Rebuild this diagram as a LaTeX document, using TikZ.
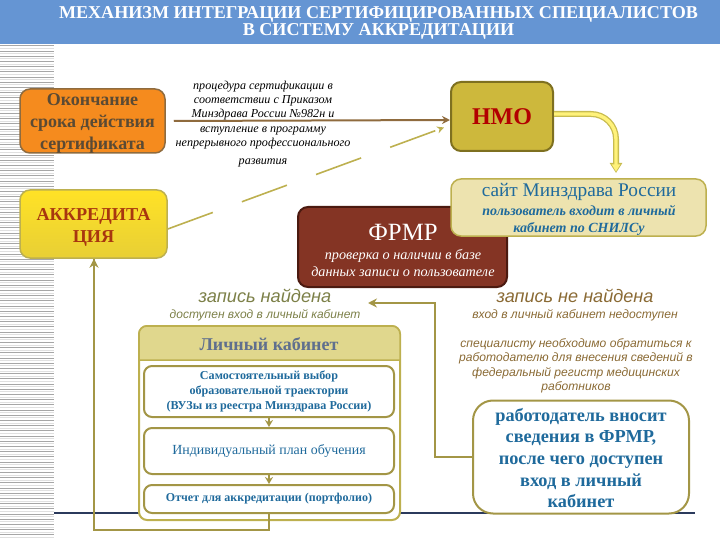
\documentclass[tikz,border=0pt]{standalone}
\usepackage{fontspec}
\setmainfont{Liberation Serif}
\setsansfont{Liberation Sans}
\usetikzlibrary{arrows.meta}

\definecolor{bandblue}{HTML}{6595D3}
\definecolor{oliveline}{HTML}{A39646}
\definecolor{goldline}{HTML}{BDB04F}
\definecolor{brownline}{HTML}{8F6B3E}
\definecolor{textblue}{HTML}{1F6A9C}
\definecolor{navyline}{HTML}{2B3A5C}
\definecolor{foundtxt}{HTML}{7C8048}
\definecolor{notfoundtxt}{HTML}{8A6A34}
\definecolor{finishfill}{HTML}{F58B1E}
\definecolor{finishtxt}{HTML}{5A4A34}
\definecolor{accredtop}{HTML}{FFE226}
\definecolor{accredbot}{HTML}{E8CF35}
\definecolor{accredtxt}{HTML}{A8360F}
\definecolor{nmofill}{HTML}{CDB83C}
\definecolor{nmoline}{HTML}{7E7020}
\definecolor{frmrfill}{HTML}{843424}
\definecolor{frmrline}{HTML}{4B1A10}
\definecolor{sitefill}{HTML}{EDE3AF}
\definecolor{headfill}{HTML}{E0D78D}
\definecolor{headtxt}{HTML}{5F6F8E}
\definecolor{arrowfill}{HTML}{FFF27A}
\definecolor{arrowline}{HTML}{C8BC50}

\tikzset{
  round box/.style={draw=#1,line width=1.5pt,rounded corners=10pt,inner sep=0pt,align=center},
  inner box/.style={draw=oliveline,fill=white,line width=2pt,rounded corners=8pt,inner sep=0pt,
    minimum width=250pt,align=center,text=textblue},
  olive arrow/.style={draw=oliveline,line width=2.5pt,-{Stealth[length=9pt,width=9pt]}},
  small arrow/.style={draw=oliveline,line width=2pt,-{Stealth[length=7pt,width=8pt]}}
}

\begin{document}
\begin{tikzpicture}[x=1pt,y=-1pt]
  \useasboundingbox (0,0) rectangle (720,540);

  % band and stripes
  \fill[bandblue] (0,0) rectangle (720,44);
  \foreach \y in {46,51.2,...,540} {
    \draw[black!35,line width=1pt] (0,\y) -- (54,\y);
    \draw[black!12,line width=1pt] (0,\y+2.6) -- (54,\y+2.6);
  }
  \draw[navyline,line width=2pt] (54,513) -- (695,513);

  \node[text=white,align=center,font=\bfseries\fontsize{18.1}{17}\selectfont] (title) at (378.5,23)
    {МЕХАНИЗМ ИНТЕГРАЦИИ СЕРТИФИЦИРОВАННЫХ СПЕЦИАЛИСТОВ\\В СИСТЕМУ АККРЕДИТАЦИИ};

  % upper row
  \node[round box=brownline,fill=finishfill,minimum width=145pt,minimum height=64pt] (finish) at (92.5,121) {};
  \node[text=finishtxt,align=center,font=\bfseries\fontsize{18}{22}\selectfont] (finishtext) at (92.5,123)
    {Окончание\\срока действия\\сертификата};
  \node[round box=goldline,top color=accredtop,bottom color=accredbot,minimum width=147pt,minimum height=68pt] (accred) at (93.5,224) {};
  \node[text=accredtxt,align=center,font=\bfseries\fontsize{18.2}{22}\selectfont] (accredtext) at (93.5,227)
    {АККРЕДИТА\\ЦИЯ};
  \node[round box=nmoline,line width=2pt,fill=nmofill,minimum width=102pt,minimum height=69pt,
    text=red!70!black,font=\bfseries\fontsize{24}{26}\selectfont] (nmo) at (502,116.5) {НМО};
  \node[align=center,font=\itshape\fontsize{12.1}{14.2}\selectfont] (procedure) at (263,124)
    {процедура сертификации в\\соответствии с Приказом\\Минздрава России №982н и\\вступление в программу\\непрерывного профессионального\\[4pt]развития};

  % central block
  \node[round box=frmrline,fill=frmrfill,line width=2pt,minimum width=209pt,minimum height=80pt,
    text=white] (frmr) at (402.5,247) {};
  \node[text=white,font=\fontsize{24.8}{26}\selectfont] (frmrname) at (403,232) {ФРМР};
  \node[text=white,align=center,font=\itshape\fontsize{14.2}{17}\selectfont] (frmrtext) at (403,263)
    {проверка о наличии в базе\\данных записи о пользователе};
  \node[round box=goldline,fill=sitefill,minimum width=255pt,minimum height=57pt,
    text=textblue] (site) at (578.5,207.5) {};
  \node[text=textblue,font=\fontsize{19.3}{21}\selectfont] (sitename) at (579,192) {сайт Минздрава России};
  \node[text=textblue,align=center,font=\bfseries\itshape\fontsize{14}{17}\selectfont] (sitetext) at (579,220.5)
    {пользователь входит в личный\\кабинет по СНИЛСу};

  % found / not found
  \node[text=foundtxt,font=\sffamily\itshape\fontsize{18.2}{20}\selectfont] (found) at (265,296) {запись найдена};
  \node[text=foundtxt,font=\sffamily\itshape\fontsize{12}{14}\selectfont] (foundtext) at (265,315) {доступен вход в личный кабинет};
  \node[text=notfoundtxt,font=\sffamily\itshape\fontsize{18.1}{20}\selectfont] (notfound) at (575,296) {запись не найдена};
  \node[text=notfoundtxt,font=\sffamily\itshape\fontsize{12.1}{14}\selectfont] (notfoundtext) at (575,315) {вход в личный кабинет недоступен};
  \node[text=notfoundtxt,align=center,font=\sffamily\itshape\fontsize{12.1}{14.4}\selectfont] (advice) at (576,366)
    {специалисту необходимо обратиться к\\работодателю для внесения сведений в\\федеральный регистр медицинских\\работников};

  % personal cabinet
  \node[draw=goldline,fill=white,line width=2pt,rounded corners=8pt,minimum width=261pt,minimum height=194pt] (cabinet) at (269.5,423) {};
  \draw[draw=goldline,fill=headfill,line width=1.5pt] (139,360) [rounded corners=8pt] -- (139,326) -- (400,326) [sharp corners] -- (400,360) -- cycle;
  \node[text=headtxt,font=\bfseries\fontsize{18}{20}\selectfont] (cabinetname) at (269,344) {Личный кабинет};
  \node[inner box,minimum height=51pt,font=\bfseries\fontsize{12.1}{14.6}\selectfont] (choice) at (269,391.5)
    {Самостоятельный выбор\\образовательной траектории\\(ВУЗы из реестра Минздрава России)};
  \node[inner box,minimum height=46pt,font=\fontsize{13.9}{16}\selectfont] (plan) at (269,451) {Индивидуальный план обучения};
  \node[inner box,minimum height=28pt,font=\bfseries\fontsize{12}{14}\selectfont] (report) at (269,499) {Отчет для аккредитации (портфолио)};
  \draw[small arrow] (choice) -- (plan);
  \draw[small arrow] (plan) -- (report);

  % employer
  \node[draw=oliveline,fill=white,line width=2pt,rounded corners=20pt,minimum width=216pt,minimum height=113pt] (employer) at (581,457) {};
  \node[text=textblue,align=center,font=\bfseries\fontsize{18.3}{21.6}\selectfont] (employertext) at (581,458)
    {работодатель вносит\\сведения в ФРМР,\\после чего доступен\\вход в личный\\кабинет};

  % connectors
  \coordinate (foundend) at (368,303);
  \draw[olive arrow] (employer.west) -| (435,303) -- (foundend);
  \draw[olive arrow] (report.south) |- (94,530) -- (94,259) -- ([xshift=0.5pt]accred.south);
  \draw[brownline,line width=2pt,-{Stealth[length=8pt,width=8pt]}] ([xshift=8pt]finish.east) -- ([yshift=-3.5pt]nmo.west);
  \draw[goldline,line width=1.6pt,dash pattern=on 48pt off 31pt,-{Stealth[length=7pt,width=7pt]}] ([yshift=-5pt]accred.east) -- ([xshift=-6pt,yshift=-11pt]nmo.west);

  % yellow arrow
  \draw[arrowline,line width=6pt,rounded corners=25pt,-{Triangle[length=10pt,width=12pt]}] (nmo.east |- 0,114) -- (616,114) -- (616,173);
  \draw[arrowfill,line width=3.4pt,rounded corners=25pt,-{Triangle[length=7pt,width=8pt]}] (nmo.east |- 0,114) -- (616,114) -- (616,171.5);
\end{tikzpicture}
\end{document}
